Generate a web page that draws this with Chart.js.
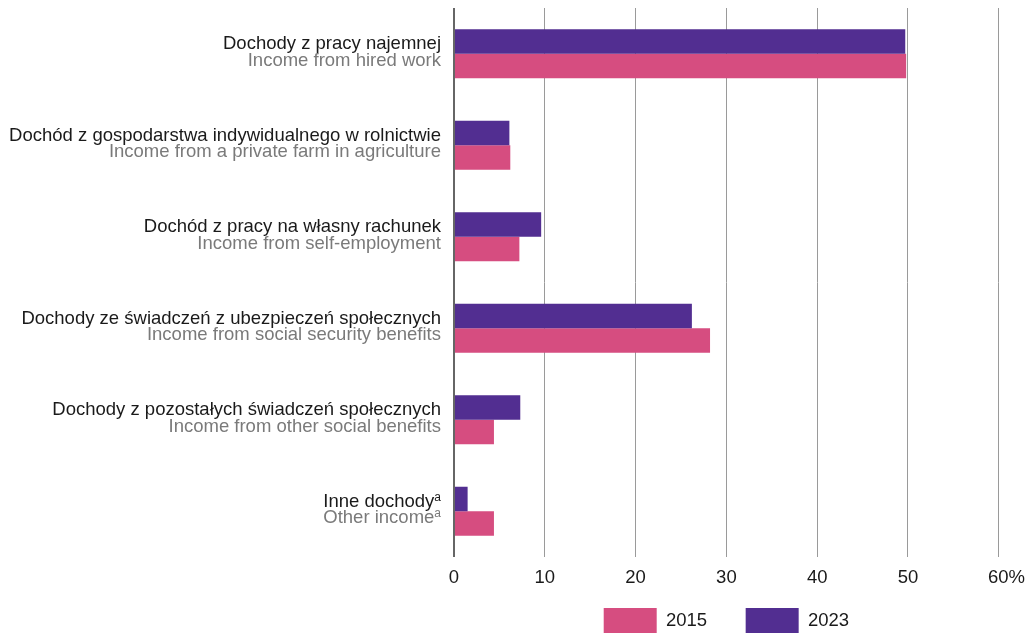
<!DOCTYPE html>
<html>
<head>
<meta charset="utf-8">
<script src="https://cdn.jsdelivr.net/npm/chart.js@4"></script>
<style>
  html, body { margin: 0; padding: 0; background: #fff; }
  #wrap { width: 1035px; height: 633px; }
</style>
</head>
<body>
<div id="wrap"><canvas id="incomeChart"></canvas></div>
<script>
// category labels, polish line + english line ("^a" = footnote marker)
const labelsPl = [
  'Dochody z pracy najemnej',
  'Dochód z gospodarstwa indywidualnego w rolnictwie',
  'Dochód z pracy na własny rachunek',
  'Dochody ze świadczeń z ubezpieczeń społecznych',
  'Dochody z pozostałych świadczeń społecznych',
  'Inne dochody^a'
];
const labelsEn = [
  'Income from hired work',
  'Income from a private farm in agriculture',
  'Income from self-employment',
  'Income from social security benefits',
  'Income from other social benefits',
  'Other income^a'
];

// share of income, %
const values2015 = [49.8, 6.2, 7.2, 28.2, 4.4, 4.4];
const values2023 = [49.7, 6.1, 9.6, 26.2, 7.3, 1.5];

const xTicks = [0, 10, 20, 30, 40, 50, 60];

const PINK = '#d64d80';
const PURPLE = '#522e91';
const FONT = '"Liberation Sans", Arial, sans-serif';
const FSIZE = 18.5;

// draws one line of a category label, with optional superscript
function drawLabel(ctx, text, x, y, color) {
  let sup = '';
  if (text.endsWith('^a')) {
    text = text.slice(0, -2);
    sup = 'a';
  }
  ctx.fillStyle = color;
  ctx.textAlign = 'right';
  if (sup) {
    ctx.font = '12px ' + FONT;
    const sw = ctx.measureText(sup).width;
    ctx.fillText(sup, x, y - 6);
    ctx.font = FSIZE + 'px ' + FONT;
    ctx.fillText(text, x - sw, y);
  } else {
    ctx.font = FSIZE + 'px ' + FONT;
    ctx.fillText(text, x, y);
  }
}

const labelPlugin = {
  id: 'twoLineLabels',
  afterDraw(chart) {
    const ctx = chart.ctx;
    const yScale = chart.scales.y;
    const x = chart.chartArea.left - 13;
    ctx.save();
    ctx.textBaseline = 'alphabetic';
    labelsPl.forEach((pl, i) => {
      const yc = yScale.getPixelForValue(i);
      drawLabel(ctx, pl, x, yc - 4.5, '#1a1a1a');
      drawLabel(ctx, labelsEn[i], x, yc + 12, '#7a7a7a');
    });
    ctx.restore();
  }
};

var ctx = document.getElementById('incomeChart').getContext('2d');
var myChart = new Chart(ctx, {
  type: 'bar',
  data: {
    labels: labelsPl,
    datasets: [{
      label: '2023',
      data: values2023,
      backgroundColor: PURPLE,
      barPercentage: 1,
      categoryPercentage: 0.535
    }, {
      label: '2015',
      data: values2015,
      backgroundColor: PINK,
      barPercentage: 1,
      categoryPercentage: 0.535
    }]
  },
  options: {
    indexAxis: 'y',
    responsive: true,
    maintainAspectRatio: false,
    animation: false,
    layout: {
      padding: { top: 8, right: 36, left: 0, bottom: -10 }
    },
    scales: {
      x: {
        min: 0,
        max: 60,
        afterBuildTicks: scale => {
          scale.ticks = xTicks.map(v => ({ value: v }));
        },
        afterFit: scale => { scale.height = 33; },
        grid: {
          color: ctx => ctx.tick && ctx.tick.value === 0 ? '#666' : '#9a9a9a',
          lineWidth: ctx => ctx.tick && ctx.tick.value === 0 ? 2 : 1,
          drawTicks: false
        },
        border: { display: false },
        ticks: {
          padding: 10,
          color: '#1a1a1a',
          font: { family: FONT, size: FSIZE },
          callback: v => v === 60 ? '   60%' : v
        }
      },
      y: {
        grid: { display: false },
        border: { display: false },
        ticks: { display: false },
        afterFit: scale => { scale.width = 454; }
      }
    },
    plugins: {
      legend: {
        position: 'bottom',
        reverse: true,
        fullSize: false,
        labels: {
          boxWidth: 53,
          boxHeight: 25,
          padding: 18,
          color: '#1a1a1a',
          font: { family: FONT, size: FSIZE },
          // extra gap after the first item (padding is kept small for the vertical fit)
          generateLabels: chart => {
            const items = Chart.defaults.plugins.legend.labels.generateLabels(chart);
            items.forEach(it => { if (it.text === '2015') it.text = '2015    '; });
            return items;
          }
        }
      },
      tooltip: { enabled: false }
    }
  },
  plugins: [labelPlugin]
});
</script>
</body>
</html>
